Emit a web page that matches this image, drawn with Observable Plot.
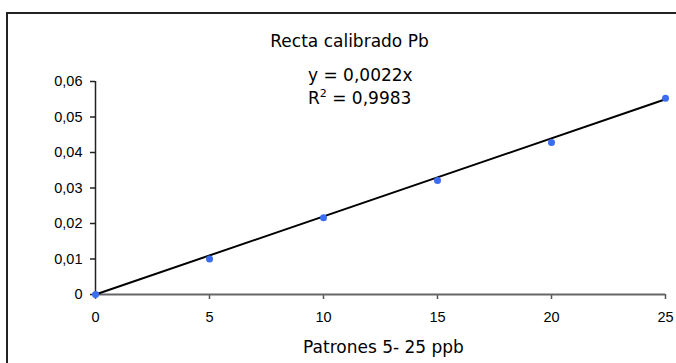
<!DOCTYPE html>
<html>
<head>
<meta charset="utf-8">
<script src="https://cdn.jsdelivr.net/npm/d3@7"></script>
<script src="https://cdn.jsdelivr.net/npm/@observablehq/plot@0.6"></script>
<style>
  html, body { margin: 0; padding: 0; background: #fff; overflow: hidden; }
  #wrap { position: relative; width: 676px; height: 363px; }
  #frame { position: absolute; left: 6px; top: 12px; width: 700px; height: 400px;
           border: 2px solid #222; box-sizing: border-box; pointer-events: none; }
  .lbl { position: absolute; font-family: "DejaVu Sans", Verdana, sans-serif;
         font-size: 17px; color: #000; white-space: nowrap; line-height: 17px; }
  #title { left: 249.5px; width: 200px; top: 33px; text-align: center; }
  #eq { left: 308px; top: 64px; line-height: 23px; }
  #xlab { left: 283.5px; width: 200px; top: 339px; text-align: center; }
  sup { font-size: 11px; vertical-align: 7px; line-height: 0; }
  #wrap svg { position: absolute; left: 0; top: 0; }
</style>
</head>
<body>
<div id="wrap">
  <div id="frame"></div>
  <div class="lbl" id="title">Recta calibrado Pb</div>
  <div class="lbl" id="eq">y = 0,0022x<br>R<sup>2</sup> = 0,9983</div>
  <div class="lbl" id="xlab">Patrones 5- 25 ppb</div>
</div>
<script>
// Calibration standards (ppb) and measured signal
const conc = [0, 5, 10, 15, 20, 25];
const signal = [0, 0.0100, 0.0216, 0.0321, 0.0428, 0.0553];
// Linear fit through the origin: y = slope * x
const slope = 0.0022;
const xTicks = [0, 5, 10, 15, 20, 25];
const yTicks = [0, 0.01, 0.02, 0.03, 0.04, 0.05, 0.06];

const points = conc.map((c, i) => ({x: c, y: signal[i]}));
const fit = [0, 25].map(x => ({x, y: slope * x}));

const fmt = d => d === 0 ? "0" : d.toFixed(2).replace(".", ",");

const chart = Plot.plot({
  width: 676,
  height: 363,
  marginLeft: 95,
  marginRight: 11,
  marginTop: 81,
  marginBottom: 69,
  style: "font-family: 'Liberation Sans', Arial, sans-serif; font-size: 14.5px; color: #000; background: transparent;",
  x: {domain: [0, 25]},
  y: {domain: [0, 0.06]},
  marks: [
    Plot.axisX({ticks: xTicks, tickSize: 5, tickPadding: 12, label: null, stroke: "#555", strokeWidth: 1.5, fill: "#000"}),
    Plot.axisY({ticks: yTicks, tickSize: 5, tickPadding: 8, tickFormat: fmt, label: null, stroke: "#222", strokeWidth: 1.5, fill: "#000"}),
    Plot.ruleY([0], {stroke: "#666", strokeWidth: 2}),
    Plot.ruleX([0], {stroke: "#222", strokeWidth: 1.5}),
    Plot.line(fit, {x: "x", y: "y", stroke: "#000", strokeWidth: 2}),
    Plot.dot(points, {x: "x", y: "y", r: 3.5, fill: "#3a6cf4", stroke: "none"})
  ]
});
// Tick labels in Arial-like face at 14.5px
chart.querySelectorAll("g[aria-label$='tick label']").forEach(g => {
  g.setAttribute("font-size", "14.5");
  g.style.fontSize = "14.5px";
});
document.getElementById("wrap").appendChild(chart);
</script>
</body>
</html>
